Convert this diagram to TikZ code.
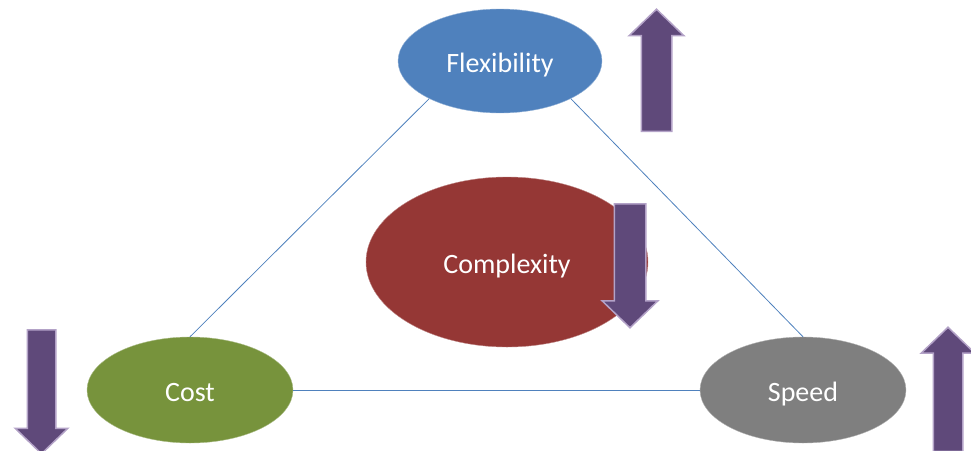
\documentclass[tikz,border=0pt]{standalone}
\usepackage{fontspec}
\setmainfont{Carlito}
\usepackage{tikz}
\usetikzlibrary{shapes.geometric, shapes.arrows}
\definecolor{flexblue}{HTML}{4F81BD}
\definecolor{cplxred}{HTML}{953735}
\definecolor{costgreen}{HTML}{77933C}
\definecolor{speedgray}{HTML}{7F7F7F}
\definecolor{arrowpurple}{HTML}{5F497A}
\definecolor{arrowedge}{HTML}{B3A2C7}
\definecolor{linkblue}{HTML}{4F81BD}
\tikzset{blob/.style={ellipse,inner sep=0pt,text=white,text height=22pt,text depth=0pt,
    font=\fontsize{28}{32}\selectfont},
  trend/.style={single arrow,fill=arrowpurple,draw=arrowedge,line width=1.5pt,anchor=tail,
    inner xsep=0pt,single arrow head indent=0pt,single arrow tip angle=92}, 
  link/.style={draw=linkblue,line width=0.8pt}}

\begin{document}
\begin{tikzpicture}[x=1pt, y=-1pt]
    \useasboundingbox (0,0) rectangle (971,450);

    \node[blob, fill=flexblue, draw=flexblue!60!white, minimum width=204pt, minimum height=104pt]
      (flex) at (500,61) {Flexibility};
    \node[blob, fill=cplxred, draw=cplxred!60!white, minimum width=282pt, minimum height=170pt]
      (cplx) at (507,262) {Complexity};
    \node[blob, fill=costgreen, draw=costgreen!60!white, minimum width=206pt, minimum height=106pt]
      (cost) at (190,390) {Cost};
    \node[blob, fill=speedgray, draw=speedgray!60!white, minimum width=206pt, minimum height=106pt]
      (speed) at (803,390) {Speed};

    \draw[link] (flex.208) -- (cost.north);
    \draw[link] (flex.332) -- (speed.north);
    \draw[link] (cost.east) -- (speed.west);

    \node[trend, rotate=90, inner ysep=14.5pt, single arrow head extend=12pt,
      minimum height=122pt] (flex-up) at (656.5,132) {};
    \node[trend, rotate=-90, inner ysep=15pt, single arrow head extend=12pt,
      minimum height=124pt] (cplx-down) at (630,203) {};
    \node[trend, rotate=-90, inner ysep=13.5pt, single arrow head extend=12pt,
      minimum height=124pt] (cost-down) at (41.5,329) {};
    \node[trend, rotate=90, inner ysep=14pt, single arrow head extend=12pt,
      minimum height=124pt] (speed-up) at (948,452) {};
\end{tikzpicture}
\end{document}
